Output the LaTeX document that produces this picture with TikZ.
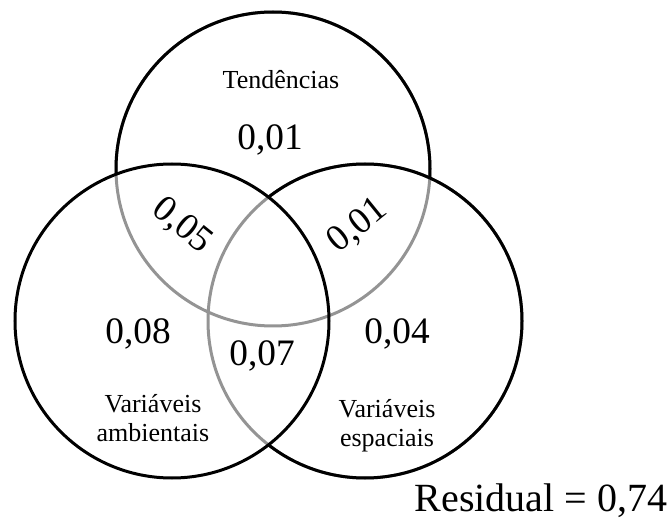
\documentclass[tikz,border=0pt]{standalone}
\usepackage{fontspec}
\setmainfont{Liberation Serif}
\begin{document}
\begin{tikzpicture}[x=0.75pt,y=-0.75pt,line width=2.25pt,
  inner/.style={draw=black!42},
  big/.style={font=\fontsize{28}{30}\selectfont},
  small/.style={font=\fontsize{19.5}{21.5}\selectfont,align=center}]
  \useasboundingbox (0,0) rectangle (672,524);
  \coordinate (T) at (273,169);
  \coordinate (L) at (172,321);
  \coordinate (R) at (365,321);
  % grey lines first, black parts over them
  \draw[inner] (T) circle (117.75pt) (R) circle (117.75pt);
  \draw (L) circle (117.75pt);
  \begin{scope}[even odd rule]
    \clip (0,0) rectangle (672,524) (L) circle (117.75pt);
    \draw (R) circle (117.75pt);
    \clip (0,0) rectangle (672,524) (R) circle (117.75pt);
    \draw (T) circle (117.75pt);
  \end{scope}
  \node (tend) at (281,80) [small] {Tendências};
  \node (t) at (270,140) [big] {0,01};
  \node (ta) at (182,226) [big,rotate=-39] {0,05};
  \node (te) at (358,226) [big,rotate=39] {0,01};
  \node (a) at (138,333.5) [big] {0,08};
  \node (ae) at (262,356) [big] {0,07};
  \node (e) at (397,333.5) [big] {0,04};
  \node (amb) at (153,418) [small] {Variáveis\\ambientais};
  \node (esp) at (387,426) [small] {Variáveis\\espaciais};
  \node (res) at (541,501) [font=\fontsize{30}{32}\selectfont] {Residual = 0,74};
\end{tikzpicture}
\end{document}
